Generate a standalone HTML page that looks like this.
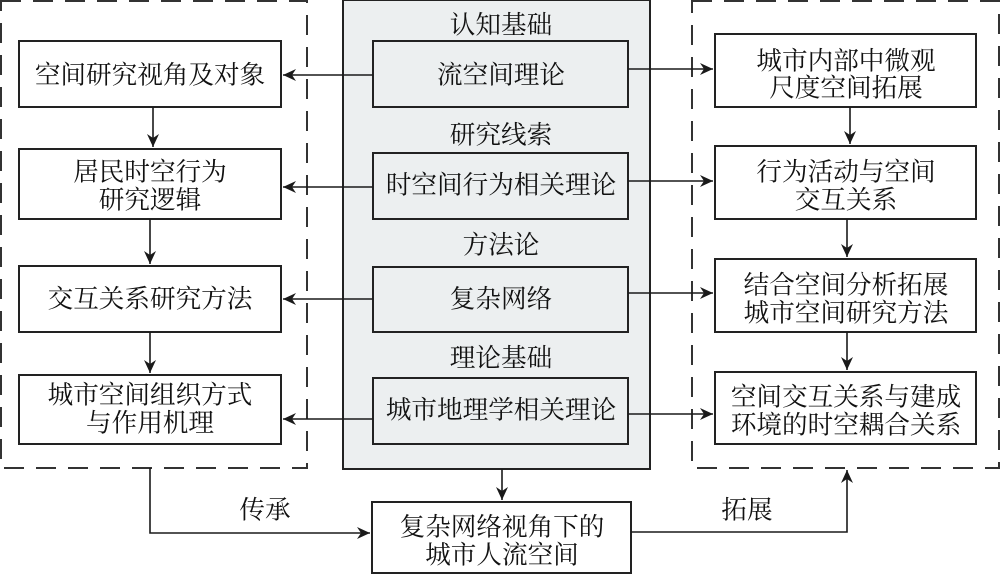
<!DOCTYPE html>
<html><head><meta charset="utf-8">
<style>
html,body{margin:0;padding:0;background:#fff;}
svg{display:block;}
text{font-family:"Liberation Serif","Noto Serif CJK SC",serif;font-size:25.6px;fill:#111;text-anchor:middle;dominant-baseline:central;}
</style></head>
<body>
<svg width="1000" height="574" viewBox="0 0 1000 574" xmlns="http://www.w3.org/2000/svg">
<defs>
<marker id="ah" markerWidth="14" markerHeight="12" refX="13" refY="6" orient="auto" markerUnits="userSpaceOnUse">
<path d="M0,0 L13,6 L0,12 L4,6 Z" fill="#1a1a1a"/>
</marker>
</defs>

<!-- dashed containers -->
<g fill="none" stroke="#333" stroke-width="2" stroke-dasharray="20 12">
<rect x="1" y="1" width="306" height="467"/>
<rect x="692" y="1" width="307" height="467"/>
</g>

<!-- center gray container -->
<rect x="343" y="0" width="307" height="469" fill="#eceff0" stroke="#222" stroke-width="2"/>

<!-- boxes -->
<g fill="#fff" stroke="#222" stroke-width="2">
<rect x="19" y="41" width="262" height="66"/>
<rect x="19" y="149" width="262" height="70"/>
<rect x="19" y="266" width="262" height="66"/>
<rect x="19" y="375" width="262" height="69"/>

<rect x="715" y="34" width="261" height="73"/>
<rect x="715" y="146" width="261" height="73"/>
<rect x="715" y="259" width="261" height="73"/>
<rect x="715" y="372" width="261" height="72"/>

<rect x="372" y="502" width="259" height="71"/>
</g>
<g fill="#eceff0" stroke="#222" stroke-width="2">
<rect x="373" y="41" width="255" height="66"/>
<rect x="373" y="153" width="255" height="66"/>
<rect x="373" y="267" width="255" height="65"/>
<rect x="373" y="378" width="255" height="66"/>
</g>

<!-- connectors -->
<g stroke="#1a1a1a" stroke-width="1.6" fill="none" marker-end="url(#ah)">
<line x1="373" y1="75" x2="283" y2="75"/>
<line x1="373" y1="187" x2="283" y2="187"/>
<line x1="373" y1="299" x2="283" y2="299"/>
<line x1="373" y1="419" x2="283" y2="419"/>

<line x1="628" y1="69" x2="713" y2="69"/>
<line x1="628" y1="181" x2="713" y2="181"/>
<line x1="628" y1="293" x2="713" y2="293"/>
<line x1="628" y1="414" x2="713" y2="414"/>

<line x1="153" y1="107" x2="153" y2="147"/>
<line x1="150" y1="219" x2="150" y2="264"/>
<line x1="150" y1="332" x2="150" y2="373"/>

<line x1="850" y1="107" x2="850" y2="144"/>
<line x1="847" y1="219" x2="847" y2="257"/>
<line x1="847" y1="332" x2="847" y2="370"/>

<line x1="502" y1="469" x2="502" y2="500"/>

<path d="M150,468 L150,533 L370,533"/>
<path d="M631,532 L847,532 L847,470"/>
</g>

<!-- left texts -->
<text x="150" y="75">空间研究视角及对象</text>
<text x="150" y="172">居民时空行为</text>
<text x="150" y="200">研究逻辑</text>
<text x="150" y="299">交互关系研究方法</text>
<text x="150" y="395">城市空间组织方式</text>
<text x="150" y="423">与作用机理</text>

<!-- center texts -->
<text x="501" y="25">认知基础</text>
<text x="501" y="75">流空间理论</text>
<text x="501" y="135">研究线索</text>
<text x="501" y="185">时空间行为相关理论</text>
<text x="501" y="245">方法论</text>
<text x="501" y="299">复杂网络</text>
<text x="501" y="358">理论基础</text>
<text x="501" y="410">城市地理学相关理论</text>

<!-- right texts -->
<text x="846" y="61">城市内部中微观</text>
<text x="846" y="88">尺度空间拓展</text>
<text x="846" y="172">行为活动与空间</text>
<text x="846" y="200">交互关系</text>
<text x="846" y="285">结合空间分析拓展</text>
<text x="846" y="313">城市空间研究方法</text>
<text x="846" y="397">空间交互关系与建成</text>
<text x="846" y="425">环境的时空耦合关系</text>

<!-- bottom -->
<text x="502" y="527">复杂网络视角下的</text>
<text x="502" y="555">城市人流空间</text>
<text x="265" y="510">传承</text>
<text x="747" y="510">拓展</text>
</svg>
</body></html>
